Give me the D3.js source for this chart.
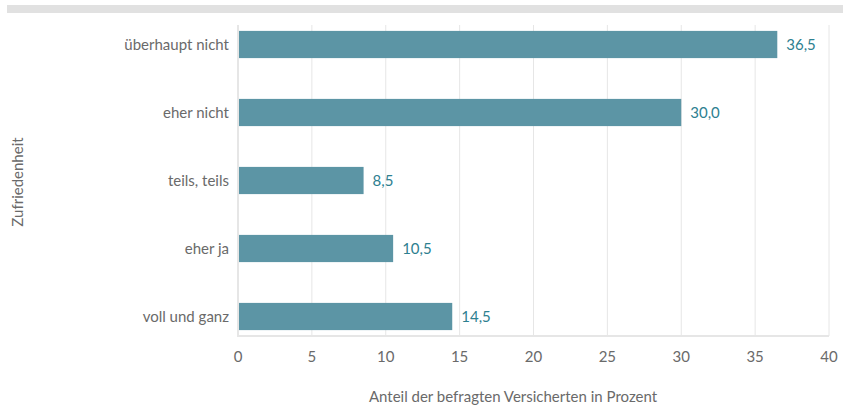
<!DOCTYPE html>
<html>
<head>
<meta charset="utf-8">
<script src="https://cdn.jsdelivr.net/npm/d3@7.9.0/dist/d3.min.js"></script>
<style>
  body { margin: 0; background: #fff; }
  svg { display: block; font-family: Lato, "Open Sans", sans-serif; }
</style>
</head>
<body>
<div id="chart"></div>
<script>
const categories = ['überhaupt nicht', 'eher nicht', 'teils, teils', 'eher ja', 'voll und ganz'];
const values = [36.5, 30.0, 8.5, 10.5, 14.5];
const xTicks = [0, 5, 10, 15, 20, 25, 30, 35, 40];

const width = 844;
const height = 406;
const plot = { left: 238, right: 829, top: 25, bottom: 336 };

const svg = d3.select('#chart')
  .append('svg')
  .attr('width', width)
  .attr('height', height);

// grey strip along the top
svg.append('rect')
  .attr('x', 7).attr('y', 5)
  .attr('width', 836).attr('height', 8)
  .attr('fill', '#e1e1e1');

const x = d3.scaleLinear().domain([0, 40]).range([plot.left, plot.right]);
const y = d3.scaleBand()
  .domain(categories)
  .range([10.5, 350.5])
  .paddingInner(0.6)
  .paddingOuter(0.3);

// gridlines
svg.append('g')
  .selectAll('line')
  .data(xTicks)
  .join('line')
  .attr('x1', d => x(d)).attr('x2', d => x(d))
  .attr('y1', plot.top).attr('y2', plot.bottom)
  .attr('stroke', '#e6e6e6')
  .attr('stroke-width', d => d === 0 ? 2 : 1);

// bottom axis line
svg.append('line')
  .attr('x1', plot.left - 1).attr('x2', plot.right)
  .attr('y1', plot.bottom).attr('y2', plot.bottom)
  .attr('stroke', '#e6e6e6')
  .attr('stroke-width', 2);

// bars
svg.append('g')
  .selectAll('rect')
  .data(values)
  .join('rect')
  .attr('x', x(0) + 1)
  .attr('y', (d, i) => y(categories[i]))
  .attr('width', d => x(d) - x(0) - 1)
  .attr('height', y.bandwidth())
  .attr('fill', '#5c95a5');

// value labels
svg.append('g')
  .selectAll('text')
  .data(values)
  .join('text')
  .attr('x', d => x(d) + 9)
  .attr('y', (d, i) => y(categories[i]) + y.bandwidth() / 2)
  .attr('dy', '0.35em')
  .attr('font-size', 15)
  .attr('fill', '#2d8090')
  .text(d => d3.format('.1f')(d).replace('.', ','));

// category labels
svg.append('g')
  .selectAll('text')
  .data(categories)
  .join('text')
  .attr('x', plot.left - 9)
  .attr('y', d => y(d) + y.bandwidth() / 2)
  .attr('dy', '0.35em')
  .attr('text-anchor', 'end')
  .attr('font-size', 15)
  .attr('fill', '#6a6a6a')
  .text(d => d);

// x tick labels
svg.append('g')
  .selectAll('text')
  .data(xTicks)
  .join('text')
  .attr('x', d => x(d))
  .attr('y', 357)
  .attr('dy', '0.35em')
  .attr('text-anchor', 'middle')
  .attr('font-size', 15)
  .attr('fill', '#6a6a6a')
  .text(d => d);

// axis titles
svg.append('text')
  .attr('x', 513)
  .attr('y', 397)
  .attr('dy', '0.35em')
  .attr('text-anchor', 'middle')
  .attr('font-size', 15)
  .attr('fill', '#6a6a6a')
  .text('Anteil der befragten Versicherten in Prozent');

svg.append('text')
  .attr('transform', 'translate(18, 182) rotate(-90)')
  .attr('dy', '0.35em')
  .attr('text-anchor', 'middle')
  .attr('font-size', 15)
  .attr('fill', '#6a6a6a')
  .text('Zufriedenheit');
</script>
</body>
</html>
